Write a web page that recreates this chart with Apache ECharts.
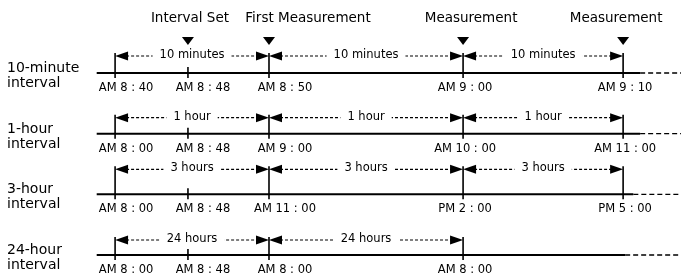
<!DOCTYPE html>
<html>
<head>
<meta charset="utf-8">
<script src="https://cdn.jsdelivr.net/npm/echarts@6/dist/echarts.min.js"></script>
<style>
    html, body { margin: 0; padding: 0; background: #fff; }
    #main { width: 681px; height: 275px; }
</style>
</head>
<body>
<div id="main"></div>
<script>
// rows of the diagram
var rowNames = ['10-minute\ninterval', '1-hour\ninterval', '3-hour\ninterval', '24-hour\ninterval'];
// schematic positions of the marks along the line (0..100 across the page)
var slotPos = [16.9, 27.6, 39.5, 68.0, 91.5];
var timeLabels = [
    ['AM 8 : 40', 'AM 8 : 48', 'AM 8 : 50', 'AM 9 : 00', 'AM 9 : 10'],
    ['AM 8 : 00', 'AM 8 : 48', 'AM 9 : 00', 'AM 10 : 00', 'AM 11 : 00'],
    ['AM 8 : 00', 'AM 8 : 48', 'AM 11 : 00', 'PM 2 : 00', 'PM 5 : 00'],
    ['AM 8 : 00', 'AM 8 : 48', 'AM 8 : 00', 'AM 8 : 00']
];
var spanLabels = ['10 minutes', '1 hour', '3 hours', '24 hours'];
var eventNames = ['Interval Set', 'First Measurement', 'Measurement', 'Measurement'];
var eventSlots = [1, 2, 3, 4];

// layout only
var lineStart = 14.2;
var dashStart = [94, 94, 93, 91.8];
var arrowGap = [17, 16, 25, 15];
var labelShift = [11, 15, 16, 2, 2];
var eventShift = [2, 39, 8, -7];
var font = '"DejaVu Sans", sans-serif';
var ink = '#000';

function line(x1, y1, x2, y2, w, dash) {
    return {
        type: 'line',
        shape: { x1: x1, y1: y1, x2: x2, y2: y2 },
        style: { stroke: ink, lineWidth: w, lineDash: dash || null }
    };
}

function text(str, x, y, size, align, bg) {
    var t = {
        type: 'text',
        x: x, y: y,
        style: {
            text: str, fill: ink, font: size + 'px ' + font,
            align: align || 'center', verticalAlign: 'middle', lineHeight: 15
        }
    };
    if (bg) {
        t.style.backgroundColor = '#fff';
        t.style.padding = [0, 7];
    }
    return t;
}

function head(tipX, y, dir) {
    var baseX = tipX + dir * 13;
    return {
        type: 'polygon',
        shape: { points: [[tipX, y], [baseX, y - 4.5], [baseX, y + 4.5]] },
        style: { fill: ink }
    };
}

function renderRow(params, api) {
    var row = api.value(0);
    var axisY = api.coord([0, row])[1];
    var arrowY = axisY - arrowGap[row];
    var px = function (v) { return api.coord([v, row])[0]; };
    var labels = timeLabels[row];
    var kids = [];

    // time line, solid then dashed at the far end
    kids.push(line(px(lineStart), axisY, px(dashStart[row]), axisY, 2));
    kids.push(line(px(dashStart[row]), axisY, px(100), axisY, 1.4, [5, 3]));

    var brackets = [];
    for (var i = 0; i < labels.length; i++) {
        var x = px(slotPos[i]);
        if (i == 1) {
            kids.push(line(x, axisY - 6, x, axisY + 5, 1.6));
        } else {
            kids.push(line(x, arrowY - 3, x, axisY + 5, 1.6));
            brackets.push(x);
        }
        kids.push(text(labels[i], x + labelShift[i], axisY + 15, 11.5));
    }

    // dashed arrows between the brackets
    for (var j = 0; j + 1 < brackets.length; j++) {
        var a = brackets[j], b = brackets[j + 1];
        kids.push(line(a + 11, arrowY, b - 11, arrowY, 1.1, [3, 2]));
        kids.push(head(a, arrowY, 1));
        kids.push(head(b, arrowY, -1));
        kids.push(text(spanLabels[row], (a + b) / 2, arrowY - 1, 11.5, 'center', true));
    }

    // row name on the left
    kids.push(text(rowNames[row], 7, axisY + 3, 14, 'left'));

    // events above the first row
    if (row == 0) {
        for (var k = 0; k < eventNames.length; k++) {
            var ex = px(slotPos[eventSlots[k]]);
            kids.push({ type: 'polygon', shape: { points: [[ex - 6, axisY - 36], [ex + 6, axisY - 36], [ex, axisY - 28]] }, style: { fill: ink } });
            kids.push(text(eventNames[k], ex + eventShift[k], axisY - 55, 13.5));
        }
    }
    return { type: 'group', children: kids };
}

var myChart = echarts.init(document.getElementById('main'), null, { renderer: 'canvas' });
var rows = [];
for (var r = 0; r < rowNames.length; r++) rows.push([r]);

myChart.setOption({
    backgroundColor: '#fff',
    animation: false,
    grid: { left: 0, right: 0, top: 73, bottom: 20 },
    xAxis: { type: 'value', min: 0, max: 100, show: false },
    yAxis: { type: 'category', data: rowNames, inverse: true, boundaryGap: false, show: false },
    series: [{
        type: 'custom',
        clip: false,
        silent: true,
        encode: { x: -1, y: 0 },
        renderItem: renderRow,
        data: rows
    }]
});
</script>
</body>
</html>
